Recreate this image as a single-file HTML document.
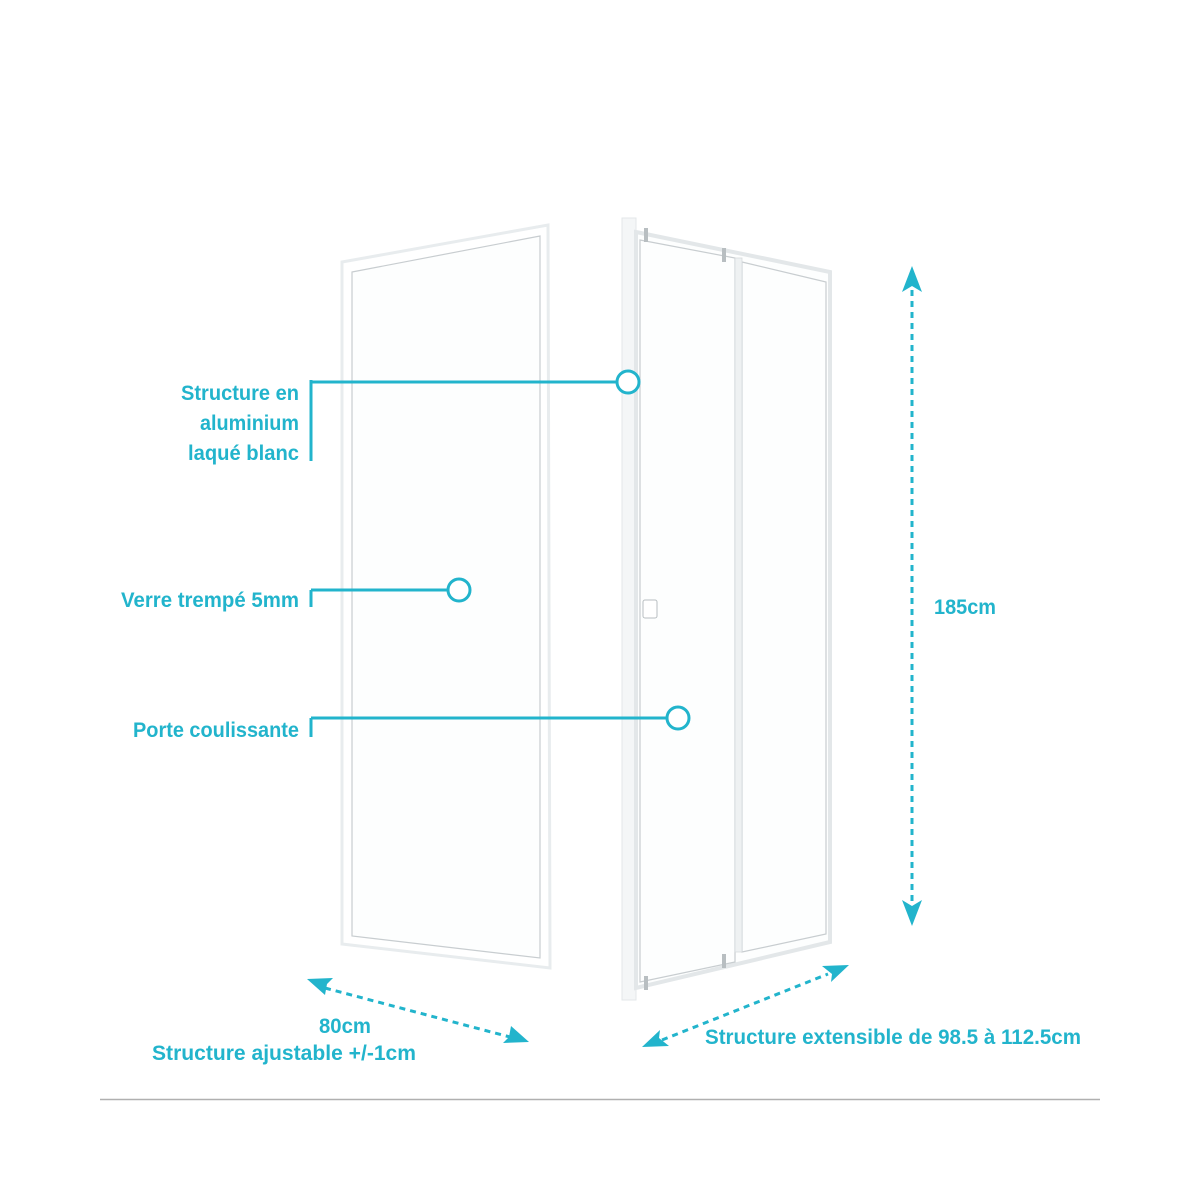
<!DOCTYPE html>
<html><head><meta charset="utf-8"><style>
body{margin:0;background:#fff;}
svg{display:block}
text{font-family:"Liberation Sans Narrow","Liberation Sans",sans-serif;fill:#22b4cc;font-size:21px;font-weight:bold}
</style></head><body>
<svg width="1200" height="1200" viewBox="0 0 1200 1200">
<!-- left panel -->
<polygon points="342,262 548,225 550,968 342,944" fill="#fff" stroke="#e8ecee" stroke-width="3"/>
<polygon points="352,272 540,236 540,958 352,936" fill="#fdfefe" stroke="#c8cdd0" stroke-width="1.2"/>
<!-- right structure -->
<rect x="622" y="218" width="14" height="782" fill="#f4f6f7" stroke="#e3e7e9"/>
<polygon points="636,232 830,272 830,942 636,988" fill="#fdfefe" stroke="#e3e7e9" stroke-width="4"/>
<polygon points="640,240 735,258 735,962 640,982" fill="none" stroke="#c8cdd0" stroke-width="1.2"/>
<polygon points="742,262 826,282 826,934 742,952" fill="none" stroke="#c8cdd0" stroke-width="1.2"/>
<rect x="735" y="258" width="7" height="694" fill="#eef1f2" stroke="#d6dadc" stroke-width="0.8"/>
<rect x="643" y="600" width="14" height="18" rx="2" fill="#fff" stroke="#b8bec1"/>
<rect x="644" y="228" width="4" height="14" fill="#b8bec1"/>
<rect x="722" y="248" width="4" height="14" fill="#b8bec1"/>
<rect x="722" y="954" width="4" height="14" fill="#b8bec1"/>
<rect x="644" y="976" width="4" height="14" fill="#b8bec1"/>
<!-- leaders -->
<g stroke="#22b4cc" stroke-width="3" fill="none">
<line x1="311" y1="380" x2="311" y2="461"/>
<line x1="311" y1="382" x2="617" y2="382"/>
<circle cx="628" cy="382" r="11" fill="#fff"/>
<line x1="311" y1="590" x2="311" y2="607"/>
<line x1="311" y1="590" x2="448" y2="590"/>
<circle cx="459" cy="590" r="11" fill="#fff"/>
<line x1="311" y1="718" x2="311" y2="737"/>
<line x1="311" y1="718" x2="667" y2="718"/>
<circle cx="678" cy="718" r="11" fill="#fff"/>
<line x1="912" y1="290" x2="912" y2="905" stroke-dasharray="6,5"/>
<line x1="325" y1="988" x2="510" y2="1037" stroke-dasharray="6,5"/>
<line x1="662" y1="1040" x2="828" y2="974" stroke-dasharray="6,5"/>
</g>
<g fill="#22b4cc">
<polygon points="912,266 902,292 912,286 922,292"/>
<polygon points="912,926 902,900 912,906 922,900"/>
<polygon points="307,979 333,978 327,984 325,995"/>
<polygon points="529,1042 503,1043 509,1037 511,1026"/>
<polygon points="642,1047 660,1030 659,1038 669,1046"/>
<polygon points="849,965 831,982 832,974 822,966"/>
</g>
<text x="181" y="400" textLength="118" lengthAdjust="spacingAndGlyphs">Structure en</text>
<text x="200" y="430" textLength="99" lengthAdjust="spacingAndGlyphs">aluminium</text>
<text x="188" y="460" textLength="111" lengthAdjust="spacingAndGlyphs">laqué blanc</text>
<text x="121" y="607" textLength="178" lengthAdjust="spacingAndGlyphs">Verre trempé 5mm</text>
<text x="133" y="737" textLength="166" lengthAdjust="spacingAndGlyphs">Porte coulissante</text>
<text x="934" y="614" textLength="62" lengthAdjust="spacingAndGlyphs">185cm</text>
<text x="319" y="1033" textLength="52" lengthAdjust="spacingAndGlyphs">80cm</text>
<text x="152" y="1060" textLength="264" lengthAdjust="spacingAndGlyphs">Structure ajustable +/-1cm</text>
<text x="705" y="1044" textLength="376" lengthAdjust="spacingAndGlyphs">Structure extensible de 98.5 à 112.5cm</text>
<line x1="100" y1="1099.5" x2="1100" y2="1099.5" stroke="#b0b0b0" stroke-width="1.5"/>
</svg>
</body></html>
